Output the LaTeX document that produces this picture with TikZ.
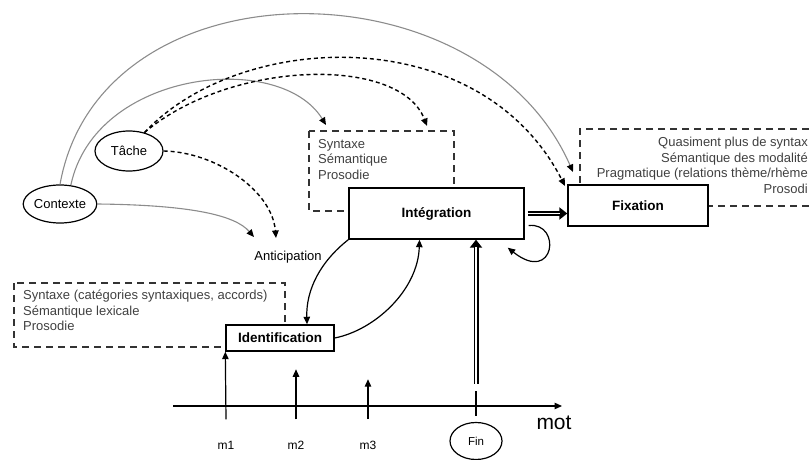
\documentclass[tikz,border=0pt]{standalone}
\usepackage{fontspec}
\setmainfont{Liberation Sans}
\usepackage{tikz}
\usetikzlibrary{shapes.geometric}
\usetikzlibrary{arrows.meta}
\usepackage{xcolor}

\begin{document}
\begin{tikzpicture}[x=1pt,y=-1pt,
  >={Triangle[length=7.5pt,width=6.5pt]},
  every node/.style={font=\fontsize{13}{15.5}\selectfont},
  etape/.style={draw,line width=1.4pt,fill=white,font=\fontsize{13.5}{16}\selectfont\bfseries,inner sep=0pt},
  ovale/.style={draw,ellipse,line width=1.2pt,inner sep=0pt},
  zone/.style={draw=black!80,dash pattern=on 7pt off 5pt,line width=1.2pt},
  liste/.style={text=black!75,align=left,inner sep=0pt},
  pointille/.style={->,dash pattern=on 4pt off 3pt,line width=1.4pt},
  gris/.style={-{Triangle[length=7.5pt,width=6.5pt,color=black]},black!45,line width=1.1pt},
  fleche/.style={->,line width=1.2pt},
  doublefleche/.style={-{Triangle[length=8pt,width=12pt]},line width=5pt,
    postaction={draw=white,line width=1.8pt,-,shorten >=7pt}}]
 \useasboundingbox (0,0) rectangle (809,460);

 % zones en pointilles
 \draw[zone] (309,131) rectangle (454,211);
 \draw[zone] (809,129) -| (580,206) -- (809,206);
 \draw[zone] (14,283) rectangle (285,347);
 \node[liste,anchor=north west] (txtinteg) at (318,139) {Syntaxe\\Sémantique\\Prosodie};
 \node[liste,align=right,anchor=north east] (txtfix) at (808,137) {Quasiment plus de syntax\\Sémantique des modalité\\Pragmatique (relations thème/rhème\\Prosodi};
 \node[liste,anchor=north west] (txtident) at (23,290) {Syntaxe (catégories syntaxiques, accords)\\Sémantique lexicale\\Prosodie};

 % noeuds
 \node[ovale,minimum width=66pt,minimum height=38pt] (ctx) at (60,204) {Contexte};
 \node[ovale,minimum width=68pt,minimum height=40pt] (tache) at (129,151) {Tâche};
 \node[ovale,minimum width=52pt,minimum height=37pt,font=\fontsize{11.5}{13}\selectfont] (fin) at (476,441) {Fin};
 \node[etape,minimum width=175pt,minimum height=51pt] (integ) at (436.5,213.5) {Intégration};
 \node[etape,minimum width=140pt,minimum height=41pt] (fix) at (638,205.5) {Fixation};
 \node[etape,minimum width=108pt,minimum height=26pt] (ident) at (280,338) {Identification};
 \node (antic) at (288,257) {Anticipation};

 \coordinate (g1) at (326,125);
 \coordinate (g2) at (573,172);
 \coordinate (a1) at (254,237);
 \coordinate (a2) at (276,238);
 \coordinate (d1) at (427,126);
 \coordinate (d2) at (565,186);

 % contexte et tache
 \draw[gris] (ctx.north) .. controls (100,-40) and (480,-40) .. (g2);
 \draw[gris] (ctx.60) .. controls (95,70) and (280,50) .. (g1);
 \draw[gris] (ctx.east) .. controls (190,205) and (235,215) .. (a1);
 \draw[pointille] (tache.50) .. controls (230,60) and (400,55) .. (d1);
 \draw[pointille] (tache.50) .. controls (240,30) and (480,20) .. (d2);
 \draw[pointille] (tache.east) .. controls (215,152) and (272,190) .. (a2);

 % liens entre etapes
 \draw[fleche] (integ.south west) .. controls (320,262) and (306,290) .. ([xshift=27pt]ident.north);
 \draw[fleche] (ident.east) .. controls (375,330) and (418,290) .. ([xshift=-17pt]integ.south);
 \draw[fleche] ([xshift=4pt,yshift=-12pt]integ.east) .. controls (562,222) and (555,285) .. ([shift={(-17,8)}]integ.south east);
 \draw[doublefleche] ([xshift=3pt]integ.east) -- (integ.east -| fix.west);

 % axe des mots
 \coordinate (ax0) at (173,406);
 \coordinate (ax1) at (562,406);
 \draw[fleche] (ax0) -- (ax1);
 \node[font=\fontsize{21}{24}\selectfont] (mot) at (554,423) {mot};
 \node[font=\fontsize{12}{14}\selectfont] (m1) at (226,445) {m1};
 \node[font=\fontsize{12}{14}\selectfont] (m2) at (296,445) {m2};
 \node[font=\fontsize{12}{14}\selectfont] (m3) at (368,445) {m3};
 \draw[fleche] ([yshift=18pt]m1.north) -- (ident.south west);
 \draw[fleche] ([yshift=18pt]m2.north) -- ++(0,-50);
 \draw[fleche] ([yshift=18pt]m3.north) -- ++(0,-40);
 \draw[line width=1.1pt] ([yshift=6pt]fin.north) -- ([yshift=31pt]fin.north);
 \draw[doublefleche] ([yshift=38pt]fin.north) -- (integ.south -| fin.north);
\end{tikzpicture}
\end{document}
